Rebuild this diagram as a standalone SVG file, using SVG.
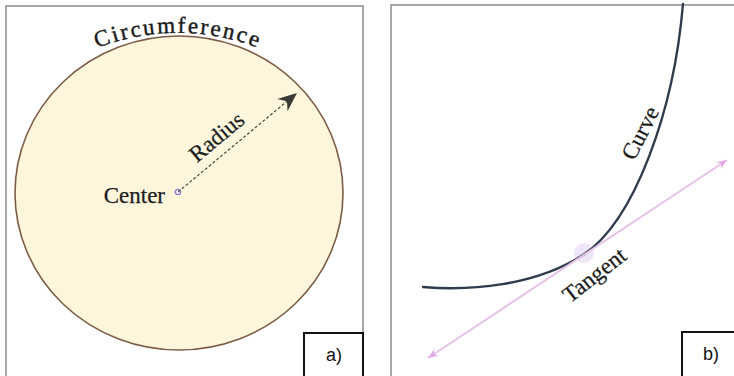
<svg xmlns="http://www.w3.org/2000/svg" width="734" height="376" viewBox="0 0 734 376">
  <style>
    .panel { fill: #ffffff; stroke: #8a8a8a; stroke-width: 1.5; }
    .tag { fill: #ffffff; stroke: #111111; stroke-width: 2; }
    .tagtxt { font-family: "Liberation Sans", Arial, sans-serif; font-size: 18px; fill: #111111; text-anchor: middle; }
    .lbl { font-family: "Liberation Serif", "Times New Roman", serif; font-size: 23px; fill: #1c1c1c; stroke: #1c1c1c; stroke-width: 0.25; }
  </style>
  <defs>
    <marker id="stealth" markerUnits="userSpaceOnUse" markerWidth="24" markerHeight="20" viewBox="-20 -10 22 20" refX="0" refY="0" orient="auto">
      <path d="M0,0 L-19,-8 L-13,0 L-19,8 Z" fill="#3a3a36"/>
    </marker>
    <marker id="pinkhead" markerUnits="userSpaceOnUse" markerWidth="14" markerHeight="12" viewBox="-12 -6 13 12" refX="0" refY="0" orient="auto-start-reverse">
      <path d="M0,0 L-10,-4 L-7,0 L-10,4 Z" fill="#e2a6e2"/>
    </marker>
    <path id="circArc" d="M60,67 A221,221 0 0 1 296,67"/>
  </defs>

  <g id="panel-a">
    <rect class="panel" x="6" y="6" width="357" height="400"/>
    <g id="circle">
      <ellipse cx="179" cy="193" rx="164" ry="157" fill="#fdf6dd" stroke="#7d5c46" stroke-width="1.6"/>
    </g>
    <g id="circumference-label">
      <text class="lbl" font-size="25.5" letter-spacing="2.2" style="stroke-width:0.45"><textPath href="#circArc" startOffset="50%" text-anchor="middle">Circumference</textPath></text>
    </g>
    <g id="center">
      <circle cx="178" cy="192" r="2.6" fill="#ffffff" stroke="#8877cc" stroke-width="1.3"/>
      <text class="lbl" x="165" y="203" text-anchor="end">Center</text>
    </g>
    <g id="radius-label">
      <text class="lbl" transform="translate(227.9 150.4) rotate(-39.8)" x="0" y="-10" text-anchor="middle">Radius</text>
    </g>
    <g id="tag-a">
      <rect class="tag" x="304" y="333" width="59" height="60"/>
      <text class="tagtxt" x="334" y="361">a)</text>
    </g>
  </g>

  <g id="panel-b">
    <rect class="panel" x="391" y="5" width="400" height="400"/>
    <g id="tangent-point">
      <circle cx="584" cy="253" r="10" fill="#dccaf2" opacity="0.45"/>
    </g>
    <g id="curve">
      <path d="M423,287 C470,291 535,286 583,255 C635,220.6 674,110 683,4" fill="none" stroke="#2e3c4d" stroke-width="2.4" stroke-linecap="round"/>
    </g>
    <g id="curve-label">
      <text class="lbl" transform="translate(647 136.5) rotate(-63)" x="0" y="0" text-anchor="middle">Curve</text>
    </g>
    <g id="tangent-label">
      <text class="lbl" transform="translate(599 281) rotate(-38)" x="0" y="0" text-anchor="middle">Tangent</text>
    </g>
    <g id="tag-b">
      <rect class="tag" x="682" y="332" width="60" height="60"/>
      <text class="tagtxt" x="711" y="360">b)</text>
    </g>
  </g>

  <g id="connectors">
    <line id="radius" x1="178" y1="192" x2="297" y2="93" stroke="#4a4a46" stroke-width="1.2" stroke-dasharray="3 2" marker-end="url(#stealth)"/>
    <line id="tangent" x1="428" y1="358" x2="727" y2="160" stroke="#e6c2e6" stroke-width="2" marker-start="url(#pinkhead)" marker-end="url(#pinkhead)"/>
  </g>
</svg>
